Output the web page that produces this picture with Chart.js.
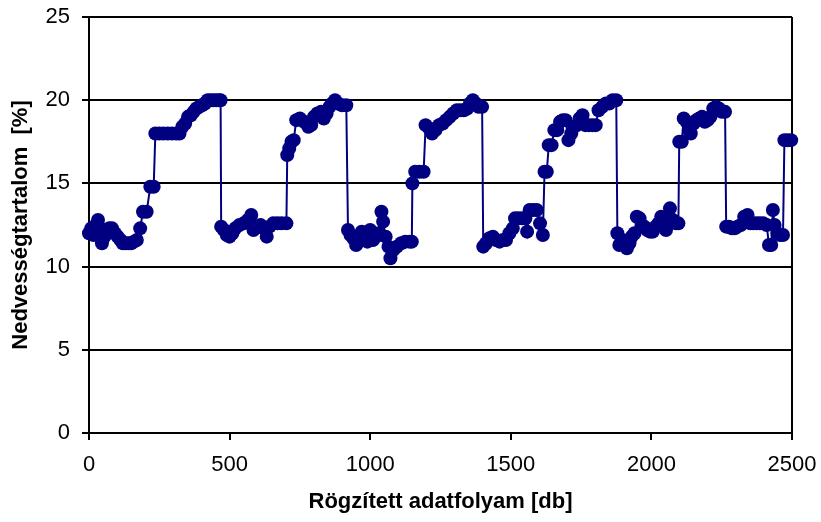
<!DOCTYPE html>
<html>
<head>
<meta charset="utf-8">
<script src="https://cdn.jsdelivr.net/npm/chart.js@4"></script>
<style>
  html, body { margin: 0; padding: 0; background: #fff; }
  #wrap { width: 821px; height: 522px; }
</style>
</head>
<body>
<div id="wrap"><canvas id="c" width="821" height="522"></canvas></div>
<script>
// Recorded sample index [db]
const recordIndex = [
  0, 8, 16, 25, 32, 40, 46, 55, 63, 72, 82, 92, 102, 112, 120, 130, 140, 150, 160, 170,
  182, 192, 205, 218, 230,
  236, 250, 265, 280, 295, 310, 322,
  332, 342, 352, 362, 372, 382, 392, 402, 412,
  422, 432, 442, 452, 462, 468,
  470, 480, 490, 500, 510, 520, 535, 550, 565, 577, 585, 597, 610, 622, 632, 642, 655, 670, 685, 702,
  705, 712, 720, 728, 737, 750, 765, 780, 790, 800, 812, 825, 835, 845, 855, 865, 875, 885, 900, 915,
  921, 930, 940, 950, 960, 970, 980, 990, 1000, 1010, 1020, 1030, 1040, 1046, 1055, 1065, 1072, 1082, 1095, 1110, 1125, 1140, 1148,
  1150, 1160, 1175, 1190, 1197, 1210, 1220, 1232, 1245, 1258, 1270, 1283, 1295, 1308, 1320, 1333, 1345, 1355, 1365, 1375, 1385, 1398,
  1402, 1412, 1424, 1436, 1448, 1460, 1472, 1483, 1495, 1507, 1515, 1527, 1540, 1552, 1558, 1567, 1580, 1592, 1604, 1614,
  1620, 1628, 1635, 1645, 1655, 1665, 1675, 1685, 1695, 1705, 1715, 1725, 1735, 1745, 1755, 1765, 1778, 1790, 1802, 1812, 1825, 1838, 1850, 1862, 1875,
  1879, 1886, 1896, 1906, 1913, 1922, 1930, 1940, 1948, 1958, 1966, 1975, 1985, 1995, 2005, 2015, 2025, 2035, 2043, 2052, 2060, 2066, 2076, 2087, 2096,
  2099, 2108, 2115, 2125, 2133, 2140, 2150, 2160, 2170, 2180, 2190, 2200, 2210, 2220, 2230, 2240, 2250, 2262,
  2266, 2276, 2286, 2296, 2306, 2318, 2330, 2342, 2352, 2362, 2374, 2386, 2398, 2410, 2418, 2426, 2432, 2438, 2448, 2458, 2468,
  2473, 2485, 2497
];

// Moisture content [%]
const moisturePct = [
  12.0, 12.3, 11.9, 12.5, 12.8, 12.3, 11.4, 11.8, 12.2, 12.3, 12.3, 12.0, 11.8, 11.6, 11.4, 11.4, 11.4, 11.4, 11.5, 11.6,
  12.3, 13.3, 13.3, 14.8, 14.8,
  18.0, 18.0, 18.0, 18.0, 18.0, 18.0, 18.0,
  18.4, 18.6, 19.0, 19.1, 19.3, 19.5, 19.6, 19.7, 19.8,
  20.0, 20.0, 20.0, 20.0, 20.0, 20.0,
  12.4, 12.2, 11.9, 11.8, 12.0, 12.3, 12.5, 12.6, 12.8, 13.1, 12.2, 12.4, 12.5, 12.3, 11.8, 12.4, 12.6, 12.6, 12.6, 12.6,
  16.7, 17.1, 17.5, 17.6, 18.8, 18.9, 18.7, 18.4, 18.5, 19.0, 19.2, 19.3, 18.9, 19.2, 19.6, 19.8, 20.0, 19.8, 19.7, 19.7,
  12.2, 11.9, 11.7, 11.3, 11.5, 12.1, 11.8, 11.5, 12.2, 11.6, 11.8, 12.0, 13.3, 12.7, 11.8, 11.2, 10.5, 11.0, 11.2, 11.4, 11.5, 11.5, 11.5,
  15.0, 15.7, 15.7, 15.7, 18.5, 18.3, 18.0, 18.2, 18.5, 18.6, 18.8, 19.0, 19.2, 19.4, 19.4, 19.4, 19.5, 19.8, 20.0, 19.8, 19.6, 19.6,
  11.2, 11.4, 11.7, 11.8, 11.6, 11.5, 11.6, 11.6, 12.0, 12.3, 12.9, 12.9, 12.9, 12.9, 12.1, 13.4, 13.4, 13.4, 12.6, 11.9,
  15.7, 15.7, 17.3, 17.3, 18.2, 18.2, 18.7, 18.8, 18.8, 17.6, 18.0, 18.4, 18.5, 18.9, 19.1, 18.5, 18.5, 18.5, 18.5, 19.4, 19.6, 19.8, 19.8, 20.0, 20.0,
  12.0, 11.3, 11.6, 11.4, 11.1, 11.4, 11.8, 12.0, 13.0, 12.9, 12.5, 12.4, 12.2, 12.1, 12.1, 12.4, 12.6, 13.0, 12.7, 12.2, 12.9, 13.5, 12.8, 12.6, 12.6,
  17.5, 17.5, 18.9, 18.7, 18.2, 18.0, 18.6, 18.8, 18.9, 19.0, 18.7, 18.8, 19.0, 19.5, 19.6, 19.5, 19.3, 19.3,
  12.4, 12.4, 12.3, 12.3, 12.4, 12.5, 13.0, 13.1, 12.6, 12.6, 12.6, 12.6, 12.6, 12.5, 11.3, 11.3, 13.4, 12.5, 12.0, 11.9, 11.9,
  17.6, 17.6, 17.6
];

const xTickValues = [0, 500, 1000, 1500, 2000, 2500];
const yTickValues = [0, 5, 10, 15, 20, 25];
const xTitle = 'Rögzített adatfolyam [db]';
const yTitle = 'Nedvességtartalom  [%]';

const FONT = "'Liberation Sans', Arial, Helvetica, sans-serif";
const INK = '#000000';
const SERIES = '#000080';

const points = recordIndex.map((x, i) => ({ x: x, y: moisturePct[i] }));

// right-hand frame line of the plot area
const plotFrame = {
  id: 'plotFrame',
  beforeDatasetsDraw(chart) {
    const { ctx, chartArea: a } = chart;
    ctx.save();
    ctx.strokeStyle = INK;
    ctx.lineWidth = 2;
    ctx.beginPath();
    ctx.moveTo(a.right, a.top);
    ctx.lineTo(a.right, a.bottom);
    ctx.stroke();
    ctx.restore();
  }
};

const plainNumber = v => String(v);

new Chart(document.getElementById('c'), {
  type: 'line',
  data: {
    datasets: [{
      data: points,
      borderColor: SERIES,
      backgroundColor: SERIES,
      borderWidth: 2,
      pointRadius: 7,
      pointBorderWidth: 0,
      pointBackgroundColor: SERIES,
      tension: 0,
      clip: false
    }]
  },
  options: {
    responsive: false,
    animation: false,
    events: [],
    layout: { padding: { top: 17, right: 29, bottom: 0, left: 0 } },
    plugins: { legend: { display: false }, tooltip: { enabled: false } },
    scales: {
      x: {
        type: 'linear',
        min: 0,
        max: 2500,
        afterBuildTicks(s) { s.ticks = xTickValues.map(v => ({ value: v })); },
        afterFit(s) { s.height = 89; s.paddingLeft = 0; s.paddingRight = 0; },
        grid: { drawOnChartArea: false, drawTicks: true, tickLength: 7, color: INK, lineWidth: 2 },
        border: { color: INK, width: 2 },
        ticks: { color: INK, font: { family: FONT, size: 22 }, padding: 12, maxRotation: 0, autoSkip: false, callback: plainNumber },
        title: { display: true, text: xTitle, color: INK, font: { family: FONT, size: 22, weight: 'bold' }, padding: { top: 4, bottom: 7 } }
      },
      y: {
        min: 0,
        max: 25,
        afterBuildTicks(s) { s.ticks = yTickValues.map(v => ({ value: v })); },
        afterFit(s) { s.width = 89; s.paddingTop = 0; s.paddingBottom = 0; },
        grid: { color: INK, lineWidth: 2, tickLength: 7 },
        border: { color: INK, width: 2 },
        ticks: { color: INK, font: { family: FONT, size: 22 }, padding: 12, callback: plainNumber },
        title: { display: true, text: yTitle, color: INK, font: { family: FONT, size: 22, weight: 'bold' }, padding: { top: 8, bottom: 0 } }
      }
    }
  },
  plugins: [plotFrame]
});
</script>
</body>
</html>
